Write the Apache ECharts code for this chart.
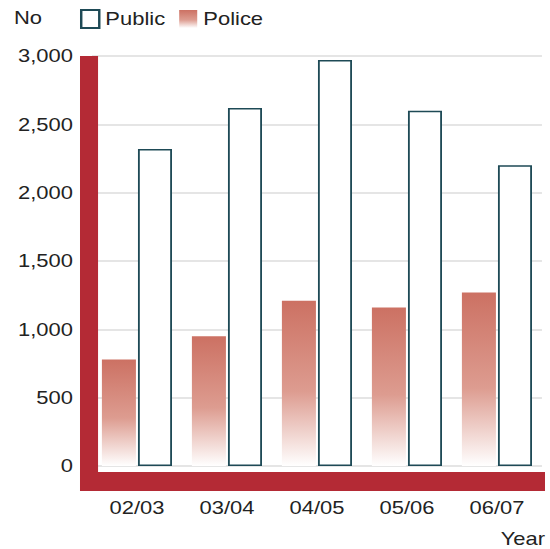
<!DOCTYPE html>
<html>
<head>
<meta charset="utf-8">
<script src="https://cdn.jsdelivr.net/npm/echarts@6/dist/echarts.min.js"></script>
<style>
  html, body { margin: 0; padding: 0; background: #fff; overflow: hidden; }
  /* the chart is laid out in a narrower box and widened to the page width,
     which gives the lettering its broad, extended look */
  #chart { width: 451px; height: 549px; transform-origin: 0 0; transform: scaleX(1.21951); }
</style>
</head>
<body>
<div id="chart"></div>
<script>
// Complaints by year and source
const years = ['02/03', '03/04', '04/05', '05/06', '06/07'];
const policeValues = [780, 950, 1210, 1160, 1270];
const publicValues = [2320, 2620, 2970, 2600, 2200];
const yTicks = [0, 500, 1000, 1500, 2000, 2500, 3000];

const FONT = '"Liberation Sans", Arial, sans-serif';
const TEXT = '#222';
const FRAME = '#b42a35';

const chart = echarts.init(document.getElementById('chart'), null, { renderer: 'svg' });

chart.setOption({
  animation: false,
  backgroundColor: '#fff',
  textStyle: { fontFamily: FONT },
  grid: { left: 75.4, right: 6.6, top: 56, bottom: 83, containLabel: false },
  legend: {
    data: ['Public', 'Police'],
    left: 65.6,
    top: 9,
    padding: 0,
    itemWidth: 14.8,
    itemHeight: 18,
    itemGap: 11.5,
    icon: 'rect',
    textStyle: { fontFamily: FONT, fontSize: 18, color: TEXT }
  },
  xAxis: {
    type: 'category',
    data: years,
    axisLine: { show: false },
    axisTick: { show: false },
    axisLabel: { fontFamily: FONT, fontSize: 18, color: TEXT, margin: 33 }
  },
  yAxis: {
    type: 'value',
    min: yTicks[0],
    max: yTicks[yTicks.length - 1],
    interval: yTicks[1] - yTicks[0],
    axisLine: { show: false },
    axisTick: { show: false },
    axisLabel: {
      fontFamily: FONT, fontSize: 18, color: TEXT, margin: 15.6,
      formatter: v => v.toLocaleString('en-US')
    },
    splitLine: { lineStyle: { color: '#dcdcdc', width: 1.5 } }
  },
  series: [
    {
      name: 'Police',
      type: 'bar',
      data: policeValues,
      barWidth: 27.9,
      barGap: '6%',
      itemStyle: {
        color: new echarts.graphic.LinearGradient(0, 0, 0, 1, [
          { offset: 0, color: '#cc7163' },
          { offset: 0.55, color: '#dd9c90' },
          { offset: 1, color: '#ffffff' }
        ])
      }
    },
    {
      name: 'Public',
      type: 'bar',
      data: publicValues,
      barWidth: 27.9,
      itemStyle: { color: '#ffffff', borderColor: '#1e4a56', borderWidth: 1.5 }
    }
  ],
  graphic: [
    // L-shaped frame along the value and category axes
    { type: 'rect', z: 100, shape: { x: 65.6, y: 56, width: 14.8, height: 435 }, style: { fill: FRAME } },
    { type: 'rect', z: 100, shape: { x: 65.6, y: 472, width: 381.3, height: 19 }, style: { fill: FRAME } },
    { type: 'text', z: 100, left: 11.5, top: 9, style: { text: 'No', font: '18px ' + FONT, fill: TEXT } },
    { type: 'text', z: 100, right: 4.1, top: 530, style: { text: 'Year', font: '18px ' + FONT, fill: TEXT } }
  ]
});
</script>
</body>
</html>
